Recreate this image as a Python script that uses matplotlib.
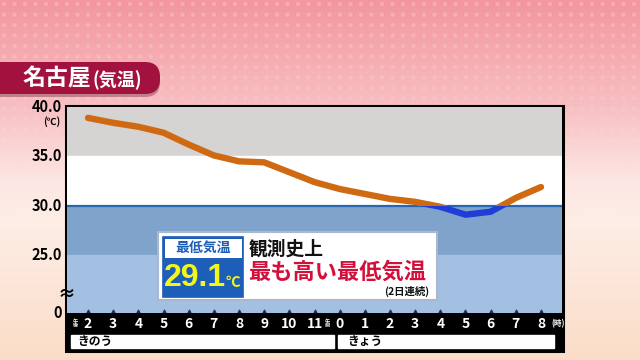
import numpy as np
import matplotlib
matplotlib.use("Agg")
import matplotlib.pyplot as plt
from matplotlib.patches import Rectangle, FancyBboxPatch
from matplotlib.colors import LinearSegmentedColormap

plt.rcParams['font.family'] = ['Noto Sans CJK JP', 'DejaVu Sans']

# ---- data ----
hour_labels = ["2", "3", "4", "5", "6", "7", "8", "9", "10", "11",
               "0", "1", "2", "3", "4", "5", "6", "7", "8"]
temps = [38.9, 38.4, 38.0, 37.4, 36.2, 35.1, 34.5, 34.4, 33.4, 32.4,
         31.7, 31.2, 30.7, 30.4, 29.9, 29.1, 29.4, 30.8, 31.9]
ytick_vals = [25.0, 30.0, 35.0, 40.0]
threshold = 30.0
title_main = "名古屋"
title_sub = "(気温)"
day_labels = ["きのう", "きょう"]
box_header = "最低気温"
box_value = "29.1"
box_line1 = "観測史上"
box_line2 = "最も高い最低気温"
box_note = "(2日連続)"

W, H = 640, 360
def fx(x): return x / W
def fy(y): return 1 - y / H

fig = plt.figure(figsize=(6.4, 3.6), dpi=100)

# ---- background gradient ----
bg = fig.add_axes([0, 0, 1, 1], zorder=-10)
bg.set_axis_off()
cmap = LinearSegmentedColormap.from_list("bg", [
    (0.0, "#f3969e"), (0.3, "#f8c0c3"), (0.5, "#fde6e3"),
    (0.62, "#fdeee6"), (1.0, "#fbdcc8")])
grad = np.linspace(0, 1, 256).reshape(-1, 1)
bg.imshow(grad, cmap=cmap, aspect="auto", extent=[0, W, H, 0])
gx, gy = np.meshgrid(np.arange(4, W, 10.5), np.arange(4, 200, 10.5))
alpha = np.clip(1 - gy / 200, 0, 1) * 0.22
bg.scatter(gx.ravel(), gy.ravel(), s=9, c=[(1, 1, 1, a) for a in alpha.ravel()],
           linewidths=0)
bg.set_xlim(0, W); bg.set_ylim(H, 0)

# ---- title tab ----
bg.add_patch(FancyBboxPatch((-30, 65), 190, 32, boxstyle="round,pad=0,rounding_size=15",
                            fc="#5a1a2a", ec="none", alpha=0.35))
bg.add_patch(FancyBboxPatch((-30, 62), 190, 32, boxstyle="round,pad=0,rounding_size=15",
                            fc="#a3113f", ec="none"))
bg.text(23, 79, title_main, color="white", fontsize=16.5, fontweight="bold",
        va="center", ha="left")
bg.text(92, 80, title_sub, color="white", fontsize=13, fontweight="bold",
        va="center", ha="left")

# ---- main axes ----
L, R, T, B = 67, 562, 107, 313
n = len(temps)
x = np.arange(n)
pxh = (541 - 88) / (n - 1)
xl = -(88 - L) / pxh
xr = (n - 1) + (R - 541) / pxh
pxdeg = (205.5 - 106.7) / 10.0
ybot = 40 - (B - T) / pxdeg

ax = fig.add_axes([fx(L), fy(B), fx(R) - fx(L), fy(T) - fy(B)])
ax.set_xlim(xl, xr)
ax.set_ylim(ybot, 40)
ax.axhspan(35, 40, color="#d6d3d3", zorder=0)
ax.axhspan(30, 35, color="#ffffff", zorder=0)
ax.axhspan(25, 30, color="#7fa3cb", zorder=0)
ax.axhspan(ybot, 25, color="#a3c0e2", zorder=0)
ax.axhline(threshold, color="#2866b0", lw=1.6, zorder=1)
for s in ax.spines.values():
    s.set_visible(False)
ax.set_xticks([])
ax.set_yticks([])

up = ax.plot(x, temps, color="#cf6a12", lw=4.6, solid_capstyle="round",
             solid_joinstyle="round", zorder=3)[0]
dn = ax.plot(x, temps, color="#1e3ed6", lw=4.6, solid_capstyle="round",
             solid_joinstyle="round", zorder=3)[0]
clip_up = Rectangle((xl - 1, threshold), xr - xl + 2, 40, transform=ax.transData)
clip_dn = Rectangle((xl - 1, ybot - 5), xr - xl + 2, threshold - ybot + 5,
                    transform=ax.transData)
up.set_clip_path(clip_up)
dn.set_clip_path(clip_dn)

# small tick triangles at the bottom
ax.scatter(x, np.full(n, ybot), marker="^", s=22, color="#1c2c55", zorder=4,
           clip_on=False)

# y labels
for v in ytick_vals:
    ax.text(xl - 0.2, v, f"{v:.1f}", ha="right", va="center", fontsize=10.5,
            fontweight="bold", color="black", transform=ax.transData)
ax.text(xl - 0.2, ybot, "0", ha="right", va="center", fontsize=10.5,
        fontweight="bold", color="black")
ax.text(xl - 0.25, 40 - 1.5, "(℃)", ha="right", va="center", fontsize=7,
        fontweight="bold", color="black")
ax.text(xl, ybot + 1.9, "≈", ha="center", va="center", fontsize=13,
        fontweight="bold", color="black", clip_on=False, zorder=6)

# ---- bottom bar ----
bar = fig.add_axes([fx(L), fy(350), fx(R) - fx(L), fy(313) - fy(350)])
bar.set_xlim(xl, xr)
bar.set_ylim(350, 313)
bar.set_axis_off()
bar.add_patch(Rectangle((xl, 313), xr - xl, 20.5, color="black"))
bar.add_patch(Rectangle((xl, 333.5), xr - xl, 16.5, color="black"))
split = 10 - 0.14
bar.add_patch(Rectangle((xl + 0.15, 334.5), split - xl - 0.25, 13.5, color="white"))
bar.add_patch(Rectangle((split + 0.08, 334.5), (xr - 0.4) - split, 13.5, color="white"))
for i, lab in enumerate(hour_labels):
    bar.text(i, 323.5, lab, color="white", fontsize=10, fontweight="bold",
             ha="center", va="center")
bar.text(-0.5, 323.5, "午\n後", color="white", fontsize=3.8, fontweight="bold",
         ha="center", va="center", linespacing=0.9)
bar.text(9.5, 323.5, "午\n前", color="white", fontsize=3.8, fontweight="bold",
         ha="center", va="center", linespacing=0.9)
bar.text(n - 1 + 0.4, 324, "(時)", color="white", fontsize=5.5, fontweight="bold",
         ha="left", va="center")
bar.text(xl + 0.4, 341.5, day_labels[0], color="black", fontsize=8.5,
         fontweight="bold", ha="left", va="center")
bar.text(split + 0.45, 341.5, day_labels[1], color="black", fontsize=8.5,
         fontweight="bold", ha="left", va="center")

# outer frame
bg.add_patch(Rectangle((L - 1, T - 1), R - L + 2, 350 - T + 2, fill=False,
                       ec="black", lw=2.2, zorder=5))

# ---- annotation box ----
ov = fig.add_axes([0, 0, 1, 1], zorder=10)
ov.set_axis_off()
ov.set_xlim(0, W); ov.set_ylim(H, 0)
ov.add_patch(Rectangle((158, 232), 279, 68, fc="white", ec="#a9b8cc", lw=1.5))
ov.add_patch(Rectangle((163, 237), 80, 60, fc="#1d5eb8", ec="#1d5eb8", lw=1.2))
ov.add_patch(Rectangle((164.5, 238.5), 77, 19.5, fc="white", ec="none"))
ov.text(203, 248, box_header, color="#1d5eb8", fontsize=10, fontweight="bold",
        ha="center", va="center")
ov.text(195, 278, box_value, color="#f4f61a", fontsize=23, fontweight="bold",
        ha="center", va="center", family=["Liberation Sans", "DejaVu Sans"])
ov.text(233, 282, "℃", color="#f4f61a", fontsize=10.5, fontweight="bold",
        ha="center", va="center", family=["Noto Sans CJK JP", "DejaVu Sans"])
ov.text(249, 249, box_line1, color="#111111", fontsize=13.5, fontweight="bold",
        ha="left", va="center")
ov.text(248, 272, box_line2, color="#d3103b", fontsize=16, fontweight="bold",
        ha="left", va="center")
ov.text(429, 291, box_note, color="#111111", fontsize=7.5, fontweight="bold",
        ha="right", va="center")

fig.savefig("out.png", dpi=100)
